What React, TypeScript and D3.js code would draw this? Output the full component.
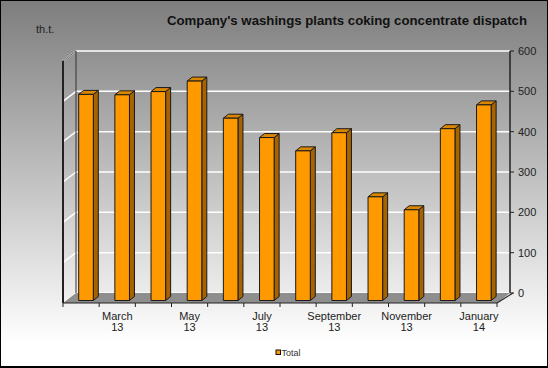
import React from "react";
import * as d3 from "d3";

const MONTHS = ["February", "March", "April", "May", "June", "July", "August", "September", "October", "November", "December", "January"];
const YEARS = ["13", "13", "13", "13", "13", "13", "13", "13", "13", "13", "13", "14"];
const TOTAL = [511, 510, 518, 544, 452, 404, 371, 416, 257, 225, 426, 485];
const Y_TICKS = [0, 100, 200, 300, 400, 500, 600];

const W = 548;
const H = 368;
const FONT = "'Liberation Sans', Arial, sans-serif";

// depth of the 3d box (back plane -> front plane)
const DX = -13;
const DY = 10;

export default function App() {
  const keys = MONTHS.map((m, i) => `${m} ${YEARS[i]}`);
  const x = d3.scaleBand<string>().domain(keys).range([76, 510]);
  const y = d3.scaleLinear().domain([0, 600]).range([293, 51]);

  const bw = 14.6;
  const side = { dx: 5, dy: -4 };
  const barDepth = 0.75;

  const floor = [
    [76, y(0)], [510, y(0)], [510 + DX, y(0) + DY], [76 + DX, y(0) + DY],
  ].map(p => p.join(",")).join(" ");

  return (
    <div style={{ position: "absolute", left: 0, top: 0 }}>
      <svg width={W} height={H} style={{ display: "block" }}>
        <defs>
          <linearGradient id="bg" x1="0" y1="0" x2="0" y2="1">
            <stop offset="0" stopColor="#7d7d7d" />
            <stop offset="0.93" stopColor="#ffffff" />
            <stop offset="1" stopColor="#ffffff" />
          </linearGradient>
        </defs>
        <rect x={0} y={0} width={W} height={H} fill="url(#bg)" />

        {/* title */}
        <text x={167} y={24.5} fontFamily={FONT} fontSize={13} fontWeight="bold" fill="#111"
          textLength={360} lengthAdjust="spacingAndGlyphs">
          Company's washings plants coking concentrate dispatch
        </text>
        <text x={36} y={33} fontFamily={FONT} fontSize={11} fill="#222">th.t.</text>

        {/* grid on back wall and left wall */}
        {Y_TICKS.map(t => (
          <g key={t}>
            <line x1={76} x2={510} y1={y(t)} y2={y(t)} stroke="#fff" strokeWidth={1.5} />
            <line x1={76 + DX} y1={y(t) + DY} x2={76} y2={y(t)} stroke="#fff" strokeWidth={1.5} />
          </g>
        ))}

        {/* floor */}
        <polygon points={floor} fill="#8e8e8e" />

        {/* walls edges */}
        <line x1={76} x2={76} y1={y(600)} y2={y(0)} stroke="#333" strokeWidth={1} />
        <line x1={76 + DX} y1={y(600) + DY} x2={76} y2={y(600)} stroke="#555" strokeWidth={1} />
        <line x1={76 + DX} x2={76 + DX} y1={y(600) + DY} y2={y(0) + DY} stroke="#222" strokeWidth={2} />
        <line x1={76 + DX} x2={510 + DX} y1={y(0) + DY} y2={y(0) + DY} stroke="#222" strokeWidth={1.2} />

        {/* right axis */}
        <line x1={510} x2={510} y1={y(600)} y2={y(0)} stroke="#222" strokeWidth={1.5} />
        <line x1={513} y1={y(0)} x2={510 + DX} y2={y(0) + DY} stroke="#222" strokeWidth={1.2} />
        {Y_TICKS.map(t => (
          <g key={t}>
            <line x1={510} x2={514} y1={y(t)} y2={y(t)} stroke="#222" />
            <text x={518} y={y(t)} dy="0.35em" fontFamily={FONT} fontSize={11} fill="#222">{t}</text>
          </g>
        ))}

        {/* bars */}
        {keys.map((k, i) => {
          const left = (x(k) ?? 0) + 12.45 + barDepth * DX;
          const right = left + bw;
          const top = y(TOTAL[i]) + barDepth * DY;
          const bottom = y(0) + barDepth * DY;
          const sidePts = [[right, top], [right + side.dx, top + side.dy], [right + side.dx, bottom + side.dy], [right, bottom]];
          const topPts = [[left, top], [left + side.dx, top + side.dy], [right + side.dx, top + side.dy], [right, top]];
          return (
            <g key={k} stroke="#1a1a1a" strokeWidth={1} strokeLinejoin="round">
              <polygon points={sidePts.map(p => p.join(",")).join(" ")} fill="#a66300" />
              <polygon points={topPts.map(p => p.join(",")).join(" ")} fill="#d98700" />
              <rect x={left} y={top} width={bw} height={bottom - top} fill="#ff9900" />
            </g>
          );
        })}

        {/* bottom ticks and labels */}
        {keys.map((k, i) => {
          const x0 = (x(k) ?? 0) + DX;
          const cx = x0 + x.bandwidth() / 2;
          return (
            <g key={k}>
              <line x1={x0} x2={x0} y1={y(0) + DY} y2={y(0) + DY + 4} stroke="#222" />
              {i % 2 === 1 && (
                <text x={cx} y={319.5} textAnchor="middle" fontFamily={FONT} fontSize={11} fill="#222">
                  <tspan x={cx}>{MONTHS[i]}</tspan>
                  <tspan x={cx} dy={11}>{YEARS[i]}</tspan>
                </text>
              )}
            </g>
          );
        })}
        <line x1={510 + DX} x2={510 + DX} y1={y(0) + DY} y2={y(0) + DY + 4} stroke="#222" />

        {/* legend */}
        <rect x={213} y={340} width={149} height={26} fill="#fff" />
        <rect x={276} y={350} width={4.5} height={4.5} fill="#ff9900" stroke="#111" strokeWidth={1} />
        <text x={281.5} y={355.5} fontFamily={FONT} fontSize={9} fill="#333">Total</text>

        <rect x={0.5} y={0.5} width={W - 1} height={H - 1} fill="none" stroke="#000" strokeWidth={1} />
        <line x1={0} x2={W} y1={H - 1.5} y2={H - 1.5} stroke="#000" strokeWidth={1} />
      </svg>
    </div>
  );
}
